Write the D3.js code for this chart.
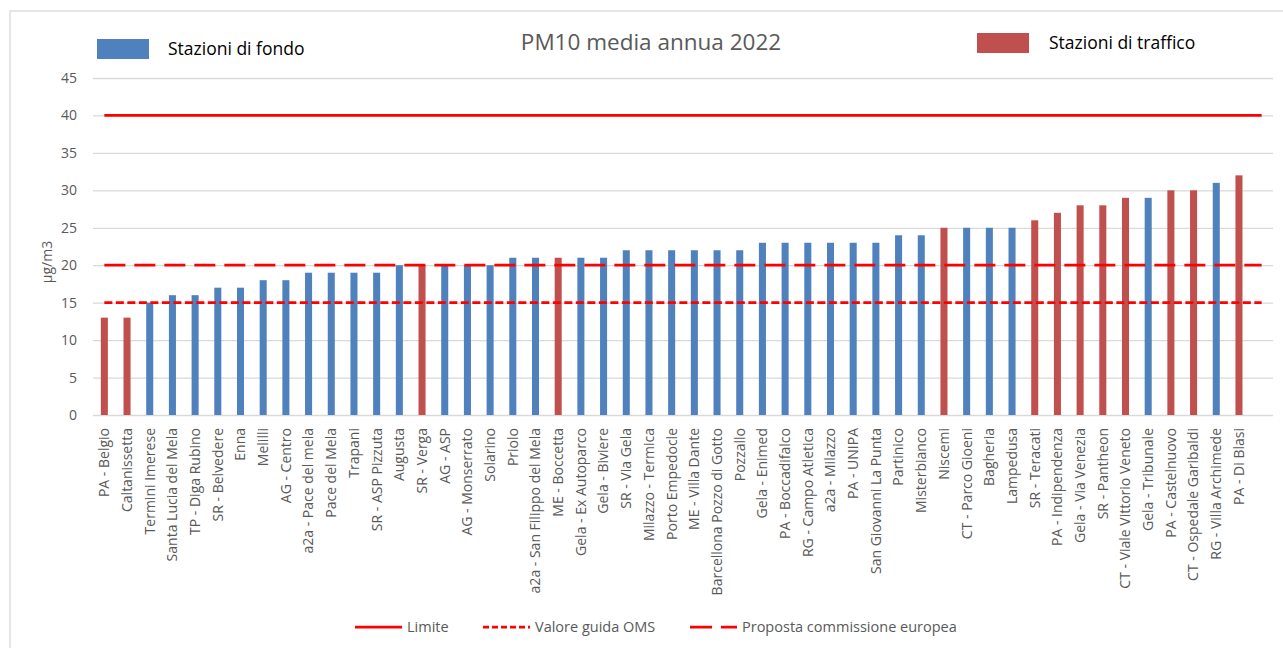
<!DOCTYPE html>
<html>
<head>
<meta charset="utf-8">
<script src="https://cdn.jsdelivr.net/npm/d3@7"></script>
<style>
  body { margin: 0; background: #fff; }
  text { font-family: "Open Sans", sans-serif; }
</style>
</head>
<body>
<div class="chart"></div>
<script>
// stazioni ordinate per media annua PM10 (2022)
var stazioni = [
  "PA - Belgio", "Caltanissetta", "Termini Imerese", "Santa Lucia del Mela", "TP - Diga Rubino",
  "SR - Belvedere", "Enna", "Melilli", "AG - Centro", "a2a - Pace del mela",
  "Pace del Mela", "Trapani", "SR - ASP Pizzuta", "Augusta", "SR - Verga",
  "AG - ASP", "AG - Monserrato", "Solarino", "Priolo", "a2a - San Filippo del Mela",
  "ME - Boccetta", "Gela - Ex Autoparco", "Gela - Biviere", "SR - Via Gela", "Milazzo - Termica",
  "Porto Empedocle", "ME - Villa Dante", "Barcellona Pozzo di Gotto", "Pozzallo", "Gela - Enimed",
  "PA - Boccadifalco", "RG - Campo Atletica", "a2a - Milazzo", "PA - UNIPA", "San Giovanni La Punta",
  "Partinico", "Misterbianco", "Niscemi", "CT - Parco Gioeni", "Bagheria",
  "Lampedusa", "SR - Teracati", "PA - Indipendenza", "Gela - Via Venezia", "SR - Pantheon",
  "CT - Viale Vittorio Veneto", "Gela - Tribunale", "PA - Castelnuovo", "CT - Ospedale Garibaldi", "RG - Villa Archimede",
  "PA - Di Blasi"
];
var valori = [
  13, 13, 15, 16, 16, 17, 17, 18, 18, 19,
  19, 19, 19, 20, 20, 20, 20, 20, 21, 21,
  21, 21, 21, 22, 22, 22, 22, 22, 22, 23,
  23, 23, 23, 23, 23, 24, 24, 25, 25, 25,
  25, 26, 27, 28, 28, 29, 29, 30, 30, 31,
  32
];
// T = stazione di traffico, F = stazione di fondo
var tipo = [
  "T", "T", "F", "F", "F", "F", "F", "F", "F", "F",
  "F", "F", "F", "F", "T", "F", "F", "F", "F", "F",
  "T", "F", "F", "F", "F", "F", "F", "F", "F", "F",
  "F", "F", "F", "F", "F", "F", "F", "T", "F", "F",
  "F", "T", "T", "T", "T", "T", "F", "T", "T", "F",
  "T"
];
var yTicks = [0, 5, 10, 15, 20, 25, 30, 35, 40, 45];
var soglie = [
  {nome: "Limite", valore: 40, dash: null, dashLeg: null},
  {nome: "Valore guida OMS", valore: 15, dash: "8,3.5", dashLeg: "6,3"},
  {nome: "Proposta commissione europea", valore: 20, dash: "21,9", dashLeg: "22,9"}
];

var width = 1283, height = 648;
var plotLeft = 93, plotRight = 1273, plotTop = 78, plotBottom = 415;
var blu = "#4F81BD", rosso = "#C0504D", grigio = "#595959", griglia = "#D9D9D9";

var svg = d3.select(".chart").append("svg")
    .attr("width", width)
    .attr("height", height);

// cornice
svg.append("rect")
    .attr("x", 10).attr("y", 11)
    .attr("width", 1285).attr("height", 650)
    .attr("fill", "none").attr("stroke", griglia).attr("stroke-width", 1.3);

// the excel sheet has one empty row after the last station -> one extra slot
var slots = d3.range(stazioni.length + 1);
var x = d3.scaleBand()
    .domain(slots)
    .range([plotLeft, plotRight])
    .paddingInner(0.69)
    .paddingOuter(0.345);

var y = d3.scaleLinear()
    .domain([0, 45])
    .range([plotBottom, plotTop]);

// griglia orizzontale
var yAxis = d3.axisLeft(y)
    .tickValues(yTicks)
    .tickSize(-(plotRight - plotLeft))
    .tickPadding(16);

var gy = svg.append("g")
    .attr("transform", "translate(" + plotLeft + ",0)")
    .call(yAxis);
gy.select(".domain").remove();
gy.selectAll(".tick line").attr("stroke", griglia).attr("stroke-width", 1.3);
gy.selectAll(".tick text")
    .attr("fill", grigio)
    .style("font-family", "'Open Sans', sans-serif")
    .style("font-size", "14px");

svg.append("text")
    .attr("transform", "translate(47,262) rotate(-90)")
    .attr("text-anchor", "middle")
    .attr("dy", "0.35em")
    .attr("fill", grigio)
    .style("font-size", "14px")
    .text("µg/m3");

// barre
svg.selectAll("rect.bar")
    .data(valori)
    .enter()
    .append("rect")
    .attr("class", "bar")
    .attr("x", function(d, i) { return x(i); })
    .attr("width", x.bandwidth())
    .attr("y", function(d) { return y(d); })
    .attr("height", function(d) { return y(0) - y(d); })
    .attr("fill", function(d, i) { return tipo[i] == "T" ? rosso : blu; });

// etichette categorie
svg.selectAll("text.cat")
    .data(stazioni)
    .enter()
    .append("text")
    .attr("class", "cat")
    .attr("transform", function(d, i) {
        return "translate(" + (x(i) + x.bandwidth() / 2) + "," + (plotBottom + 13) + ") rotate(-90)";
    })
    .attr("text-anchor", "end")
    .attr("dy", "0.35em")
    .attr("fill", grigio)
    .style("font-size", "14px")
    .text(function(d) { return d; });

// linee di riferimento
var x0 = x(0) + x.bandwidth() / 2,
    x1 = x(slots.length - 1) + x.bandwidth() / 2;
svg.selectAll("line.soglia")
    .data(soglie)
    .enter()
    .append("line")
    .attr("class", "soglia")
    .attr("x1", x0).attr("x2", x1)
    .attr("y1", function(d) { return y(d.valore); })
    .attr("y2", function(d) { return y(d.valore); })
    .attr("stroke", "#FF0000")
    .attr("stroke-width", 2.75)
    .attr("stroke-dasharray", function(d) { return d.dash; });

// titolo
svg.append("text")
    .attr("x", 651).attr("y", 42)
    .attr("text-anchor", "middle")
    .attr("dy", "0.35em")
    .attr("fill", grigio)
    .style("font-size", "22.5px")
    .text("PM10 media annua 2022");

// legenda in alto
var legTop = [
  {nome: "Stazioni di fondo", colore: blu, x: 97, y: 39, tx: 168},
  {nome: "Stazioni di traffico", colore: rosso, x: 977, y: 33, tx: 1049}
];
legTop.forEach(function(l) {
    svg.append("rect")
        .attr("x", l.x).attr("y", l.y)
        .attr("width", 52).attr("height", 20)
        .attr("fill", l.colore);
    svg.append("text")
        .attr("x", l.tx).attr("y", l.y + 10)
        .attr("dy", "0.35em")
        .attr("fill", "#000")
        .style("font-size", "17.5px")
        .text(l.nome);
});

// legenda in basso
var legX = [355, 483, 690];
var leg = svg.selectAll("g.leg")
    .data(soglie)
    .enter()
    .append("g")
    .attr("class", "leg")
    .attr("transform", function(d, i) { return "translate(" + legX[i] + ",627)"; });
leg.append("line")
    .attr("x1", 0).attr("x2", 47)
    .attr("stroke", "#FF0000")
    .attr("stroke-width", 2.75)
    .attr("stroke-dasharray", function(d) { return d.dashLeg; });
leg.append("text")
    .attr("x", 52)
    .attr("dy", "0.35em")
    .attr("fill", grigio)
    .style("font-size", "14.5px")
    .text(function(d) { return d.nome; });
</script>
</body>
</html>
